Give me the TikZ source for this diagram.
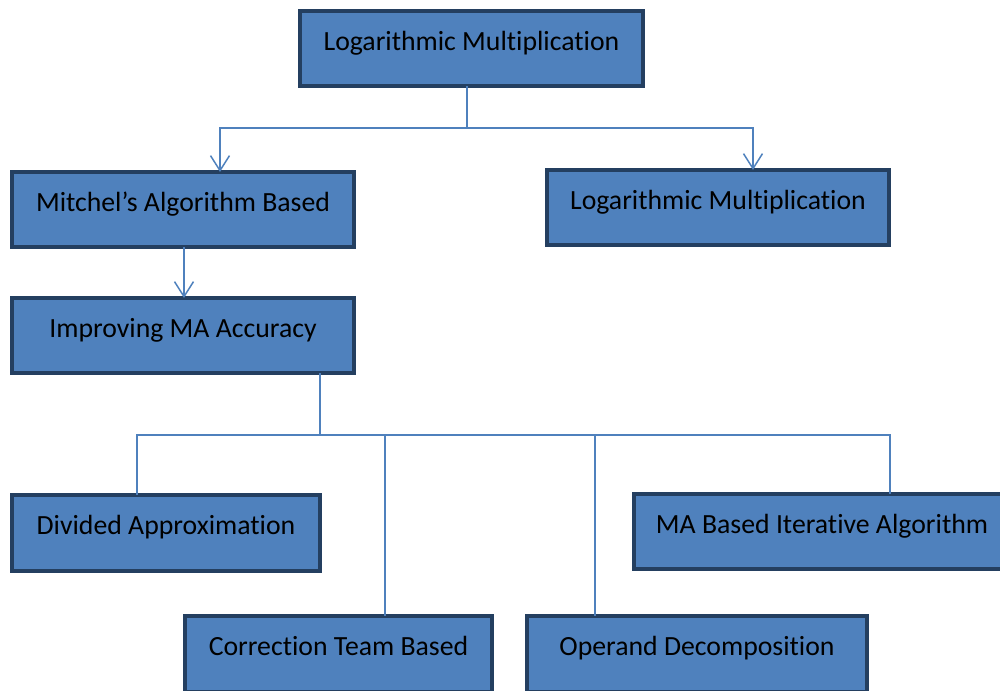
\documentclass[tikz,border=0pt]{standalone}
\usepackage{fontspec}
\setmainfont{Carlito}[Ligatures=NoCommon]
\usetikzlibrary{arrows.meta}
\definecolor{boxfill}{HTML}{4F81BD}
\definecolor{boxedge}{HTML}{243F60}
\definecolor{linecol}{HTML}{4F81BD}
\tikzset{
  boxst/.style={draw=boxedge, fill=boxfill, line width=2.4pt, rectangle, inner sep=0pt, outer sep=0pt, minimum height=1.5cm},
  lbl/.style={anchor=base, inner sep=0pt, font=\fontsize{15.8}{18}\selectfont, text=black},
  conn/.style={draw=linecol, line width=0.85pt},
  arr/.style={conn, -{Straight Barb[length=0.3cm, width=0.38cm, line width=0.85pt]}}
}
\begin{document}
\begin{tikzpicture}[x=0.02cm, y=-0.02cm]
\useasboundingbox (0,0) rectangle (1000,690);
% boxes
\node[boxst, minimum width=6.86cm] (top) at (471.5,48.5) {};
\node[boxst, minimum width=6.84cm] (mitchel) at (183,209.5) {};
\node[boxst, minimum width=6.84cm] (right) at (718,207.5) {};
\node[boxst, minimum width=6.84cm] (improving) at (183,335.5) {};
\node[boxst, minimum width=6.16cm, minimum height=1.52cm] (divided) at (166,533) {};
\node[boxst, minimum width=7.52cm] (ma) at (822,531.5) {};
\node[boxst, minimum width=6.14cm, minimum height=1.52cm] (correction) at (338.5,654) {};
\node[boxst, minimum width=6.80cm, minimum height=1.52cm] (operand) at (697,654) {};
% labels
\node[lbl] (topt) at ([yshift=-0.79cm]top.north) {Logarithmic Multiplication};
\node[lbl] (mitchelt) at ([yshift=-0.79cm]mitchel.north) {Mitchel’s Algorithm Based};
\node[lbl] (rightt) at ([yshift=-0.79cm]right.north) {Logarithmic Multiplication};
\node[lbl] (improvingt) at ([yshift=-0.79cm]improving.north) {Improving MA Accuracy};
\node[lbl] (dividedt) at ([yshift=-0.79cm]divided.north) {Divided Approximation};
\node[lbl] (mat) at ([yshift=-0.79cm]ma.north) {MA Based Iterative Algorithm};
\node[lbl] (correctiont) at ([yshift=-0.79cm]correction.north) {Correction Team Based};
\node[lbl] (operandt) at ([yshift=-0.79cm]operand.north) {Operand Decomposition};
% connectors
\draw[conn] ([xshift=-0.09cm]top.south) -- ++(0,42) coordinate (j1);
\draw[arr] (j1) -| ([xshift=0.74cm]mitchel.north);
\draw[arr] (j1) -| ([xshift=0.70cm]right.north);
\draw[arr] ([xshift=0.02cm]mitchel.south) -- ([xshift=0.02cm]improving.north);
\draw[conn] ([xshift=2.74cm]improving.south) -- ++(0,62) coordinate (j2);
\draw[conn] (j2) -| ([xshift=-0.58cm]divided.north);
\draw[conn] (j2) -| ([xshift=0.93cm]correction.north);
\draw[conn] (j2) -| ([xshift=-2.04cm]operand.north);
\draw[conn] (j2) -| ([xshift=1.36cm]ma.north);
\end{tikzpicture}
\end{document}
